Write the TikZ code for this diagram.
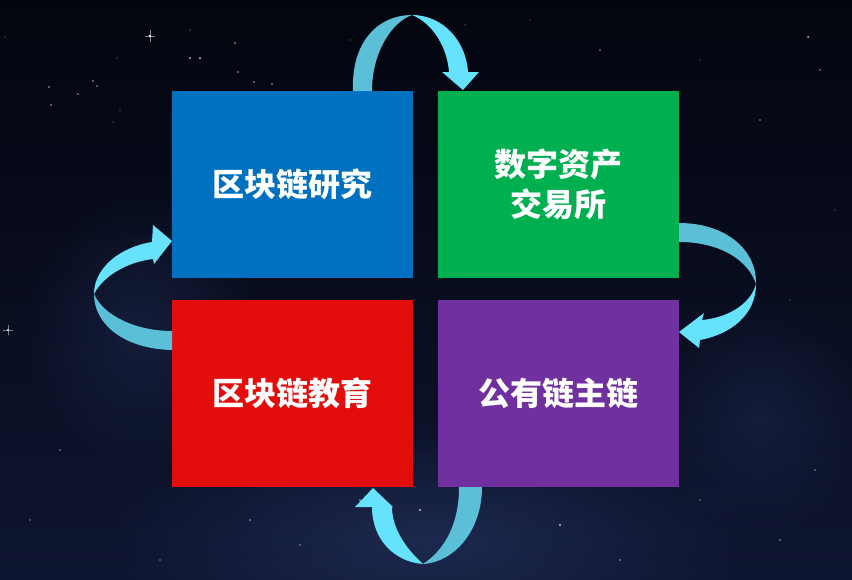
\documentclass[tikz,border=0pt]{standalone}
\usepackage{fontspec}
\newfontfamily\cjk{Noto Sans CJK SC}
\usetikzlibrary{fadings}
\tikzfading[name=myfadeout, inner color=transparent!0, outer color=transparent!100]
\definecolor{bgtop}{HTML}{03050E}
\definecolor{bgbot}{HTML}{0E1530}
\definecolor{neb}{HTML}{2A3A6A}
\definecolor{cblue}{HTML}{0070C0}
\definecolor{cgreen}{HTML}{00B050}
\definecolor{cred}{HTML}{E30E0B}
\definecolor{cpurple}{HTML}{7030A0}
\definecolor{arrdark}{HTML}{5BBFD8}
\definecolor{arrlight}{HTML}{66E2FC}
\tikzset{
  box/.style={minimum width=241pt, minimum height=187pt, inner sep=0pt, outer sep=0pt, draw=none,
    text=white, align=center, font=\cjk\bfseries\fontsize{32}{40}\selectfont},
  back/.style={fill=arrdark, draw=none},
  front/.style={fill=arrlight, draw=none},
  star/.style={fill=white, draw=none}
}
\begin{document}
\begin{tikzpicture}[x=1pt, y=-1pt]
\useasboundingbox (0,0) rectangle (852,579);
% background
\shade[top color=bgtop, bottom color=bgbot] (0,0) rectangle (852,579);
\fill[neb, path fading=myfadeout, opacity=0.55] (430,540) ellipse (330 and 120);
\fill[neb, path fading=myfadeout, opacity=0.35] (140,330) ellipse (120 and 140);
\fill[neb, path fading=myfadeout, opacity=0.3] (760,420) ellipse (110 and 120);
% stars
\foreach \x/\y/\r/\o in {150/36/1.4/1, 190/58/1/0.8, 200/58/1/0.8, 235/43/0.8/0.7, 238/72/0.8/0.7,
  254/82/0.8/0.7, 272/84/0.8/0.7, 117/58/0.7/0.6, 49/87/0.9/0.7, 51/105/0.9/0.7, 78/94/0.8/0.6,
  93/81/0.9/0.7, 97/86/0.8/0.6, 120/110/0.7/0.5, 113/122/0.7/0.5, 190/30/0.7/0.6, 5/37/0.7/0.5,
  8/330/1.2/0.9, 808/37/1/0.8, 820/70/0.8/0.6, 700/60/0.7/0.5, 760/120/0.8/0.6, 835/210/0.7/0.5,
  790/300/0.7/0.5, 60/450/0.9/0.6, 30/520/0.8/0.5, 250/520/0.9/0.6, 300/545/0.8/0.5,
  560/525/1.1/0.7, 620/560/0.9/0.6, 700/500/0.8/0.5, 780/540/0.9/0.6, 815/470/0.8/0.5,
  440/40/0.9/0.7, 465/25/0.7/0.6, 530/20/0.7/0.5, 600/50/0.8/0.6, 350/40/0.7/0.5,
  420/510/1.2/0.7, 360/500/1/0.6, 160/560/0.8/0.5}
  {\fill[star, opacity=\o] (\x,\y) circle (\r);}
\draw[white, line width=0.3pt, opacity=0.5] (145,36) -- (155,36) (150,30) -- (150,42);
\draw[white, line width=0.3pt, opacity=0.45] (3,330) -- (13,330) (8,325) -- (8,335);
% boxes
\node[box, fill=cblue]   (b1) at (292.5,184.5) {区块链研究};
\node[box, fill=cgreen]  (b2) at (558,184.5) {数字资产\\交易所};
\node[box, fill=cred]    (b3) at (292.5,393.5) {区块链教育};
\node[box, fill=cpurple] (b4) at (558,393.5) {公有链主链};
% top arrow: blue -> green
\fill[back] (353,91) .. controls (351,42) and (378,15) .. (412,15)
  .. controls (392,22) and (372,52) .. (372,91) -- cycle;
\fill[front] (412,15) .. controls (442,15) and (466,40) .. (468,72) -- (479,72) -- (463,90)
  -- (442,72) -- (449,72) .. controls (447,46) and (432,23) .. (412,15) -- cycle;
% right arrow: green -> purple
\fill[back] (679,223) .. controls (726,223) and (757,250) .. (756,284)
  .. controls (748,260) and (720,242) .. (679,242) -- cycle;
\fill[front] (756,284) .. controls (756,314) and (732,334) .. (700,340) -- (699,348) -- (679,332)
  -- (704,313) -- (702,320) .. controls (725,318) and (750,306) .. (756,284) -- cycle;
% bottom arrow: purple -> red
\fill[back] (482,487) .. controls (482,530) and (455,562) .. (423,564)
  .. controls (440,553) and (459,530) .. (459,487) -- cycle;
\fill[front] (423,564) .. controls (395,562) and (372,540) .. (372,507) -- (355,507) -- (373,488)
  -- (393,507) -- (392,507) .. controls (392,525) and (402,545) .. (423,564) -- cycle;
% left arrow: red -> blue
\fill[back] (172,350) .. controls (125,349) and (94,325) .. (94,294)
  .. controls (103,315) and (135,331) .. (172,331) -- cycle;
\fill[front] (94,294) .. controls (94,268) and (120,247) .. (152,242) -- (153,225) -- (172,241)
  -- (154,264) -- (153,259) .. controls (128,262) and (104,275) .. (94,294) -- cycle;
\end{tikzpicture}
\end{document}
